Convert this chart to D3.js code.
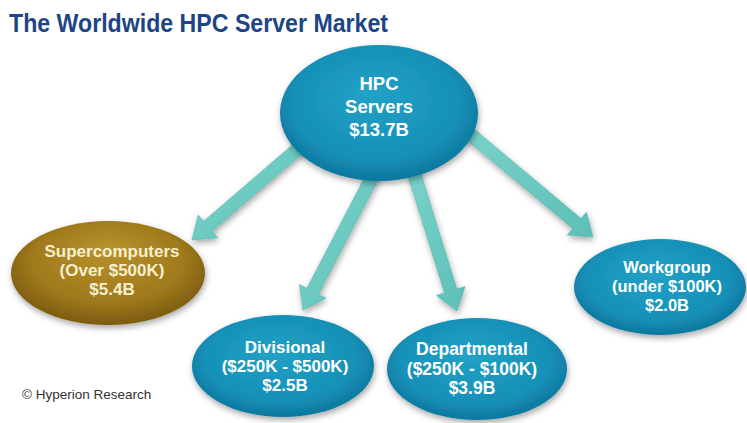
<!DOCTYPE html>
<html>
<head>
<meta charset="utf-8">
<script src="https://cdn.jsdelivr.net/npm/d3@7"></script>
<style>
  body { margin: 0; background: #fff; }
  svg { display: block; }
</style>
</head>
<body>
<svg id="chart"></svg>
<script>
// --- Data ---
const title = "The Worldwide HPC Server Market";
const rootLabel = ["HPC", "Servers"];
const rootRevenue = 13.7; // $B
const segments = ["Supercomputers", "Divisional", "Departmental", "Workgroup"];
const priceBands = ["(Over $500K)", "($250K - $500K)", "($250K - $100K)", "(under $100K)"];
const revenue = [5.4, 2.5, 3.9, 2.0]; // $B
const source = "\u00A9 Hyperion Research";

// --- Layout ---
const width = 747,
  height = 423;
const rootNode = { cx: 379, cy: 113, rx: 99, ry: 68, font: 18.5, lines: [83, 106, 129] };
const nodeLayout = [
  { cx: 108, cy: 273, rx: 97, ry: 52, font: 17, tx: 112, lines: [251, 270, 289], from: [300, 147], tip: [192, 240] },
  { cx: 283, cy: 366, rx: 91, ry: 51, font: 17, tx: 285, lines: [347, 366, 385], from: [367, 187], tip: [303, 310] },
  { cx: 477, cy: 369, rx: 90, ry: 51, font: 17.5, tx: 472, lines: [349, 368.5, 388], from: [417, 183], tip: [457, 311] },
  { cx: 660, cy: 287, rx: 86, ry: 48, font: 16.5, tx: 667, lines: [267, 286, 305], from: [477, 140], tip: [593, 237] },
];
const nodeStyle = d3
  .scaleOrdinal()
  .domain(segments)
  .range(["gold", "blue", "blue", "blue"]);
const place = d3.scaleOrdinal().domain(segments).range(nodeLayout);
const fmt = (v) => d3.format("$.1f")(v) + "B";

const svg = d3.select("#chart").attr("width", width).attr("height", height);
const defs = svg.append("defs");

// --- Gradients & filters ---
const blue = defs
  .append("radialGradient")
  .attr("id", "blue")
  .attr("cx", "50%")
  .attr("cy", "45%")
  .attr("r", "60%")
  .attr("fx", "45%")
  .attr("fy", "35%");
blue.append("stop").attr("offset", "0%").attr("stop-color", "#22a2c6");
blue.append("stop").attr("offset", "70%").attr("stop-color", "#1690b8");
blue.append("stop").attr("offset", "100%").attr("stop-color", "#0b6f95");

const gold = defs
  .append("radialGradient")
  .attr("id", "gold")
  .attr("cx", "50%")
  .attr("cy", "45%")
  .attr("r", "60%")
  .attr("fx", "50%")
  .attr("fy", "25%");
gold.append("stop").attr("offset", "0%").attr("stop-color", "#b8922e");
gold.append("stop").attr("offset", "65%").attr("stop-color", "#a07a1c");
gold.append("stop").attr("offset", "100%").attr("stop-color", "#74540c");

const teal = defs
  .append("linearGradient")
  .attr("id", "teal")
  .attr("x1", 0)
  .attr("y1", 0)
  .attr("x2", 1)
  .attr("y2", 1);
teal.append("stop").attr("offset", "0%").attr("stop-color", "#7fd6cc");
teal.append("stop").attr("offset", "100%").attr("stop-color", "#5cbfb7");

const shadow = defs.append("filter").attr("id", "shadow").attr("x", "-20%").attr("y", "-20%").attr("width", "140%").attr("height", "150%");
shadow
  .append("feDropShadow")
  .attr("dx", 1)
  .attr("dy", 3)
  .attr("stdDeviation", 3)
  .attr("flood-color", "#000")
  .attr("flood-opacity", 0.35);

// --- Helpers ---
function arrowPoints([x0, y0], [x1, y1]) {
  const ang = Math.atan2(y1 - y0, x1 - x0);
  const ux = Math.cos(ang),
    uy = Math.sin(ang);
  const px = -uy,
    py = ux;
  const sx = x0 - ux * 40,
    sy = y0 - uy * 40; // start hidden under the root ellipse
  const shaft = 6.5,
    head = 15,
    headLen = 21;
  const bx = x1 - ux * headLen,
    by = y1 - uy * headLen;
  return [
    [sx + px * shaft, sy + py * shaft],
    [bx + px * shaft, by + py * shaft],
    [bx + px * head, by + py * head],
    [x1, y1],
    [bx - px * head, by - py * head],
    [bx - px * shaft, by - py * shaft],
    [sx - px * shaft, sy - py * shaft],
  ];
}

// --- Title ---
svg
  .append("text")
  .attr("x", 9)
  .attr("y", 32)
  .attr("font-family", "Liberation Sans, Arial, sans-serif")
  .attr("font-weight", "bold")
  .attr("font-size", 25)
  .attr("textLength", 379)
  .attr("lengthAdjust", "spacingAndGlyphs")
  .attr("fill", "#1d4583")
  .text(title);

// --- Arrows ---
svg
  .append("g")
  .selectAll("path")
  .data(segments)
  .join("path")
  .attr("d", (s) => d3.line()(arrowPoints(place(s).from, place(s).tip)) + "Z")
  .attr("fill", "url(#teal)")
  .attr("stroke", "#56b5ae")
  .attr("stroke-width", 0.6)
  .attr("filter", "url(#shadow)");

// --- Child ellipses ---
const nodes = svg
  .append("g")
  .selectAll("g")
  .data(segments.map((s, i) => ({ s, band: priceBands[i], v: revenue[i] })))
  .join("g");

nodes
  .append("ellipse")
  .attr("cx", (d) => place(d.s).cx)
  .attr("cy", (d) => place(d.s).cy)
  .attr("rx", (d) => place(d.s).rx)
  .attr("ry", (d) => place(d.s).ry)
  .attr("fill", (d) => `url(#${nodeStyle(d.s)})`)
  .attr("filter", "url(#shadow)");

nodes.each(function (d) {
  const p = place(d.s);
  const lines = [d.s, d.band, fmt(d.v)];
  d3.select(this)
    .selectAll("text")
    .data(lines)
    .join("text")
    .attr("x", p.tx)
    .attr("y", (t, i) => p.lines[i] + p.font * 0.36)
    .attr("text-anchor", "middle")
    .attr("font-family", "Liberation Sans, Arial, sans-serif")
    .attr("font-weight", "bold")
    .attr("font-size", p.font)
    .attr("fill", nodeStyle(d.s) === "gold" ? "#f6efcd" : "#ffffff")
    .text((t) => t);
});

// --- Root ellipse ---
const rootG = svg.append("g");
rootG
  .append("ellipse")
  .attr("cx", rootNode.cx)
  .attr("cy", rootNode.cy)
  .attr("rx", rootNode.rx)
  .attr("ry", rootNode.ry)
  .attr("fill", "url(#blue)")
  .attr("filter", "url(#shadow)");
rootG
  .selectAll("text")
  .data([...rootLabel, fmt(rootRevenue)])
  .join("text")
  .attr("x", rootNode.cx)
  .attr("y", (t, i) => rootNode.lines[i] + rootNode.font * 0.36)
  .attr("text-anchor", "middle")
  .attr("font-family", "Liberation Sans, Arial, sans-serif")
  .attr("font-weight", "bold")
  .attr("font-size", rootNode.font)
  .attr("fill", "#ffffff")
  .text((t) => t);

// --- Source ---
svg
  .append("text")
  .attr("x", 22)
  .attr("y", 399)
  .attr("font-family", "Liberation Sans, Arial, sans-serif")
  .attr("font-size", 13.5)
  .attr("fill", "#333")
  .text(source);
</script>
</body>
</html>
